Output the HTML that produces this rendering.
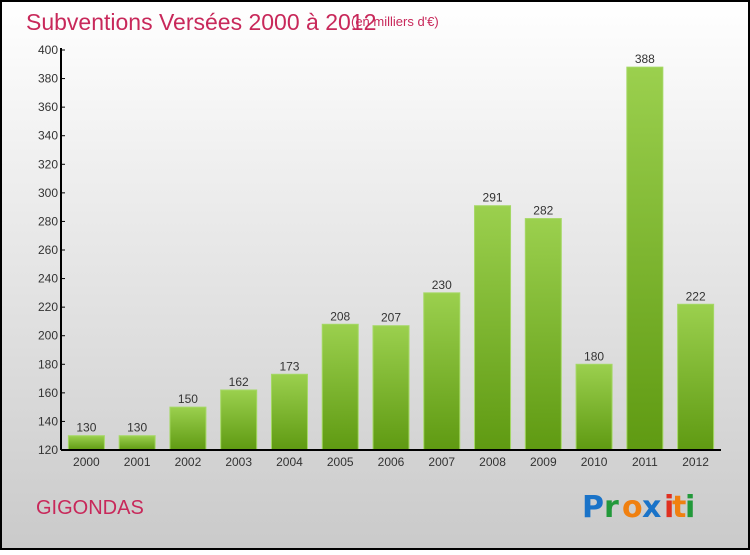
<!DOCTYPE html>
<html><head><meta charset="utf-8"><style>
html,body{margin:0;padding:0}
body{width:750px;height:550px;overflow:hidden;font-family:"Liberation Sans",sans-serif}
</style></head><body>
<svg width="750" height="550" xmlns="http://www.w3.org/2000/svg">
<defs>
<linearGradient id="bg" x1="0" y1="0" x2="0" y2="1"><stop offset="0" stop-color="#ffffff"/><stop offset="1" stop-color="#cacaca"/></linearGradient>
<linearGradient id="bar" x1="0" y1="0" x2="0" y2="1"><stop offset="0" stop-color="#9bd04e"/><stop offset="1" stop-color="#5f9a12"/></linearGradient>
</defs>
<rect x="1" y="1" width="748" height="548" fill="url(#bg)" stroke="#000" stroke-width="2"/>
<text x="26" y="30" font-size="23" fill="#c8285a">Subventions Versées 2000 à 2012</text>
<text x="351" y="26" font-size="13" fill="#c8285a">(en milliers d'€)</text>
<g id="plot"></g>
<text x="36" y="514" font-size="20" fill="#c8285a">GIGONDAS</text>
<g font-size="30" font-weight="bold" font-family="DejaVu Sans, sans-serif">
<text x="582" y="517" fill="#1a73c8">P</text><text x="604" y="517" fill="#22993a">r</text><text x="622" y="517" fill="#f08010">o</text><text x="642" y="517" fill="#1a73c8">x</text><text x="664" y="517" fill="#e03020">i</text><text x="672" y="517" fill="#f08010">t</text><text x="685" y="517" fill="#22993a">i</text>
</g>
</svg>
<script>
const categories=["2000","2001","2002","2003","2004","2005","2006","2007","2008","2009","2010","2011","2012"];
const values=[130,130,150,162,173,208,207,230,291,282,180,388,222];
const yTicks=[120,140,160,180,200,220,240,260,280,300,320,340,360,380,400];
const NS="http://www.w3.org/2000/svg";
const g=document.getElementById('plot');
const x0=61,x1=721,y0=450,y1=50,vmin=120,vmax=400;
const band=(x1-x0)/categories.length;
const y=v=>y0-(v-vmin)/(vmax-vmin)*(y0-y1);
const xc=i=>x0+band*(i+0.5);
function el(t,a){const e=document.createElementNS(NS,t);for(const k in a)e.setAttribute(k,a[k]);g.appendChild(e);return e;}
values.forEach((v,i)=>{
 const r=el('rect',{x:xc(i)-18,y:y(v),width:36,height:y0-y(v),fill:'url(#bar)',stroke:'#a5d865','stroke-width':1});
 
 
 const t=el('text',{x:xc(i),y:y(v)-4,'text-anchor':'middle','font-size':12,fill:'#333'});t.textContent=v;
 
 
 const c=el('text',{x:xc(i),y:466,'text-anchor':'middle','font-size':12,fill:'#333'});c.textContent=categories[i];
 
 
});
yTicks.forEach(v=>{
 el('line',{x1:x0,x2:x0+4,y1:y(v),y2:y(v),stroke:'#000','stroke-width':1});
 const t=el('text',{x:x0-3,y:y(v)+4,'text-anchor':'end','font-size':12,fill:'#333'});t.textContent=v;
 
 
});
const ya=el('line',{x1:x0,x2:x0,y1:y1-2,y2:y0,stroke:'#000','stroke-width':2});


const xa=el('line',{x1:x0,x2:x1,y1:y0,y2:y0,stroke:'#000','stroke-width':2});


</script>
</body></html>
